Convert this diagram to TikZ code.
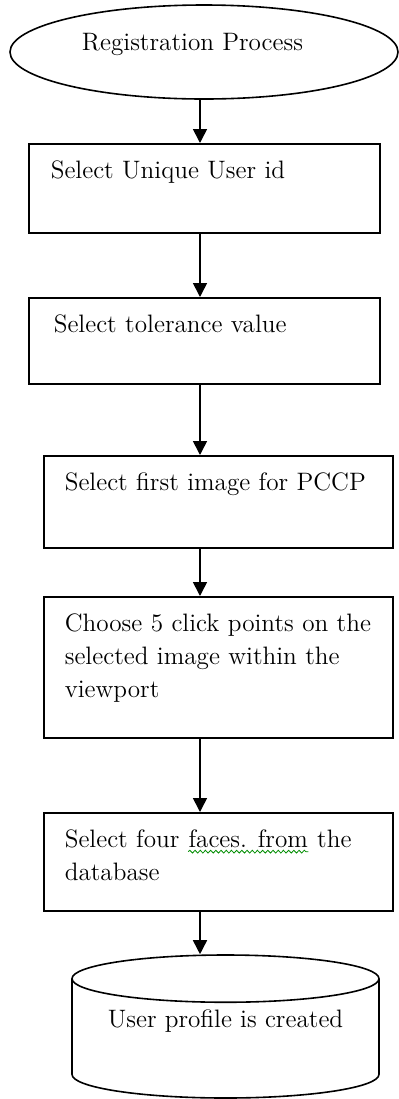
\documentclass[tikz,border=0pt]{standalone}
\usepackage{tikz}
\usetikzlibrary{arrows.meta,positioning,shapes.geometric}
\usetikzlibrary{decorations.pathmorphing}
\newcommand{\grammarmark}[1]{\tikz[baseline=(gm.base)]{\node[inner sep=0pt,draw=none] (gm) {#1};
  \draw[green!55!black,line width=0.4pt,decorate,decoration={snake,amplitude=0.7pt,segment length=2.6pt}]
    ([yshift=-1.6pt]gm.south west) -- ([yshift=-1.6pt]gm.south east);}}

\begin{document}
\begin{tikzpicture}[x=0.5pt,y=-0.5pt,
  font=\fontsize{12.6}{16.5}\selectfont,
  stepbox/.style={draw=black,line width=0.8pt,rectangle,anchor=north west,align=left,
    inner ysep=9pt,text height=8.5pt},
  flow/.style={-{Triangle[width=7pt,length=7pt]},line width=0.8pt}]
% \draw[help lines] (0,0) grid (399,1099);
\useasboundingbox (0,0) rectangle (399,1099);
\coordinate (spine) at (200,0);
%
\node (start) [ellipse,draw=black,line width=0.8pt,minimum width=194pt,minimum height=47pt,
  text height=8.5pt,text depth=10pt] at (204,52) {Registration Process\hspace*{11.5pt}};
\node (uid) [stepbox,inner xsep=11pt,text width=153.5pt,text depth=18pt] at (28,143)
  {Select Unique User id};
\node (tol) [stepbox,inner xsep=12.5pt,text width=150.5pt,text depth=16.5pt] at (28,297)
  {Select tolerance value};
\node (pccp) [stepbox,inner xsep=10.5pt,text width=153.5pt,text depth=19.5pt] at (43,455)
  {Select first image for PCCP};
\node (clicks) [stepbox,inner xsep=10.5pt,text width=153.5pt,text depth=44pt] at (43,596)
  {Choose 5 click points on the\\ selected image within the\\ viewport};
\node (faces) [stepbox,inner xsep=10.5pt,text width=153.5pt,text depth=22.5pt] at (43,812)
  {Select four \grammarmark{faces. from} the\\ database};
\node (profile) [cylinder,shape border rotate=90,draw=black,line width=0.8pt,aspect=0.19,
  minimum width=153.5pt,minimum height=71.5pt,anchor=shape center,
  text height=8.5pt,text depth=23pt] at (225.5,1026.5) {User profile is created};
%
\draw[flow] (start.south -| spine) -- (uid.north -| spine);
\draw[flow] (uid.south -| spine) -- (tol.north -| spine);
\draw[flow] (tol.south -| spine) -- (pccp.north -| spine);
\draw[flow] (pccp.south -| spine) -- (clicks.north -| spine);
\draw[flow] (clicks.south -| spine) -- (faces.north -| spine);
\draw[flow] (faces.south -| spine) -- (profile.north -| spine);
\end{tikzpicture}
\end{document}
